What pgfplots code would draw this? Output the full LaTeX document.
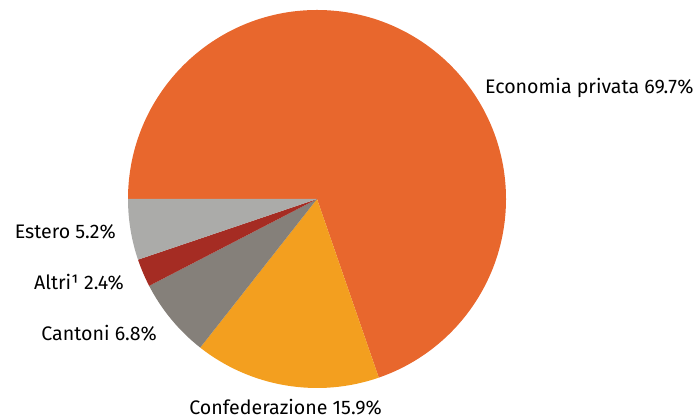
\documentclass[border=0pt]{standalone}
\usepackage{pgfplots}
\pgfplotsset{compat=1.18}
\usepackage{fontspec}
\setmainfont{Fira Sans}

\definecolor{cEcon}{HTML}{E8672D}
\definecolor{cConf}{HTML}{F39F1F}
\definecolor{cCant}{HTML}{85807A}
\definecolor{cAltr}{HTML}{A52C23}
\definecolor{cEst}{HTML}{ABABA9}

% start (cumulative %), share (%), colour
\newcommand{\slice}[3]{%
  \fill[#3] (axis cs:317,220) -- ++({180-3.6*#1}:189pt)
    arc[start angle={180-3.6*#1}, end angle={180-3.6*(#1+#2)}, radius=189pt] -- cycle;}

\begin{document}
\begin{tikzpicture}[every node/.style={font=\fontsize{19.6}{22}\selectfont, inner sep=0pt}]
\begin{axis}[
    x=1pt, y=1pt,
    xmin=0, xmax=698, ymin=0, ymax=419,
    anchor=origin,
    hide axis,
    clip=false,
]
\slice{0}{69.7}{cEcon}
\slice{69.7}{15.9}{cConf}
\slice{85.6}{6.8}{cCant}
\slice{92.4}{2.4}{cAltr}
\slice{94.8}{5.2}{cEst}

\node[anchor=west] at (axis cs:485,331) {Economia privata 69.7\%};
\node[anchor=base] at (axis cs:285.5,4) {Confederazione 15.9\%};
\node[anchor=east] at (axis cs:157,86) {Cantoni 6.8\%};
\node[anchor=east] at (axis cs:124,137) {Altri¹ 2.4\%};
\node[anchor=east] at (axis cs:116,187) {Estero 5.2\%};
\end{axis}
\pgfresetboundingbox
\path[use as bounding box] (0,0) rectangle (698pt,419pt);
\end{tikzpicture}
\end{document}
